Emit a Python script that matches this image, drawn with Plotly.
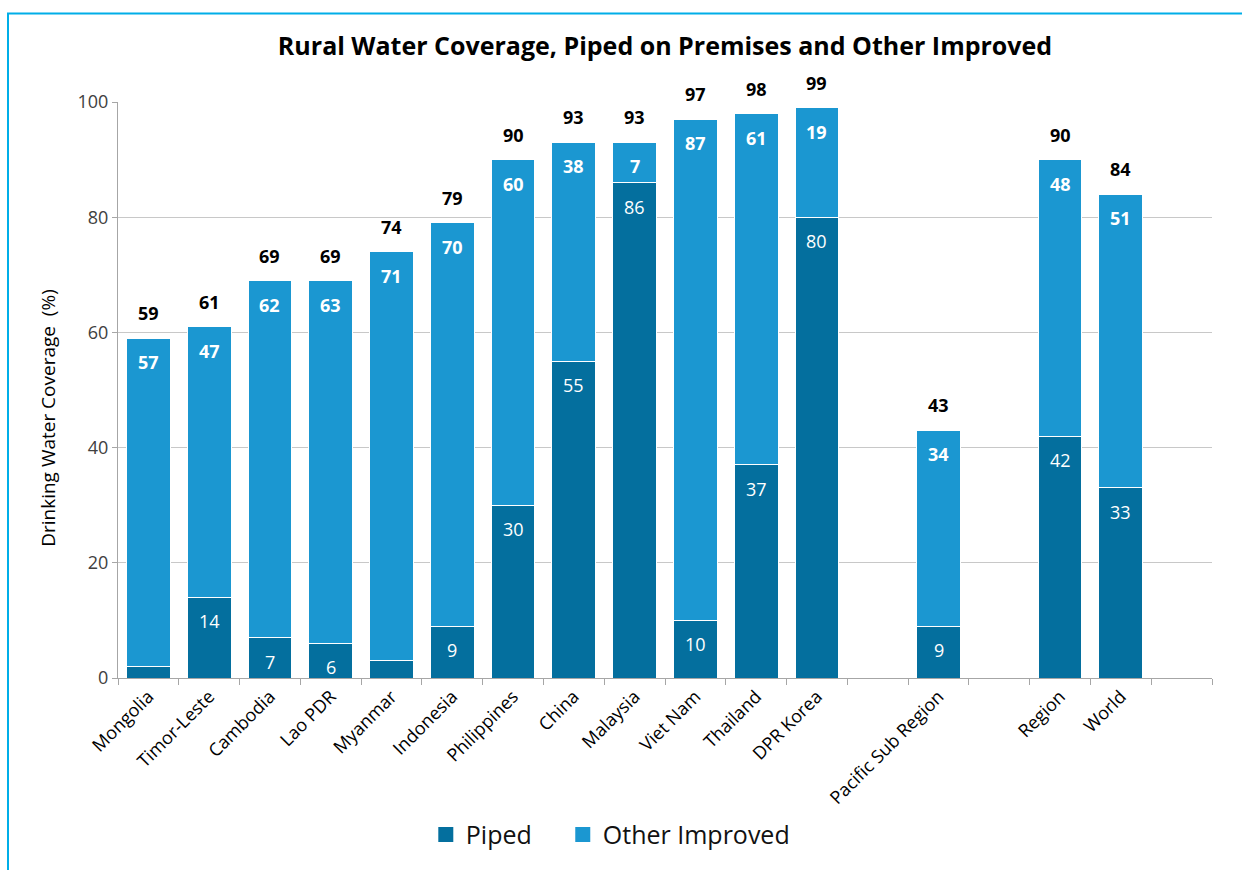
import plotly.graph_objects as go

categories = ["Mongolia", "Timor-Leste", "Cambodia", "Lao PDR", "Myanmar", "Indonesia",
              "Philippines", "China", "Malaysia", "Viet Nam", "Thailand", "DPR Korea",
              " ", "Pacific Sub Region", "  ", "Region", "World", "   "]
piped = [2, 14, 7, 6, 3, 9, 30, 55, 86, 10, 37, 80, None, 9, None, 42, 33, None]
other = [57, 47, 62, 63, 71, 70, 60, 38, 7, 87, 61, 19, None, 34, None, 48, 51, None]
totals = [59, 61, 69, 69, 74, 79, 90, 93, 93, 97, 98, 99, None, 43, None, 90, 84, None]

FONT = "Open Sans"
C_PIPED = "#046f9e"
C_OTHER = "#1b97d1"

fig = go.Figure()
fig.add_trace(go.Bar(x=categories, y=piped, name="Piped", marker_color=C_PIPED,
                     marker_line=dict(color="white", width=1), showlegend=False))
fig.add_trace(go.Bar(x=categories, y=other, name="Other Improved", marker_color=C_OTHER,
                     marker_line=dict(color="white", width=1), showlegend=False))
# legend entries with larger square swatches
for name, col in [("Piped" + "\u00a0" * 4, C_PIPED), ("Other Improved", C_OTHER)]:
    fig.add_trace(go.Scatter(x=[None], y=[None], mode="markers", name=name,
                             marker=dict(symbol="square", size=15, color=col)))

annotations = []
for c, p, o, t in zip(categories, piped, other, totals):
    if p is None:
        continue
    if p >= 5:
        annotations.append(dict(x=c, y=p, xref="x", yref="y", text=str(p), showarrow=False,
                                yanchor="middle", yshift=-24,
                                font=dict(family=FONT, size=18, color="white")))
    annotations.append(dict(x=c, y=p + o, xref="x", yref="y", text="<b>%d</b>" % o, showarrow=False,
                            yanchor="middle", yshift=-24,
                            font=dict(family=FONT, size=18, color="white")))
    annotations.append(dict(x=c, y=t, xref="x", yref="y", text="<b>%d</b>" % t, showarrow=False,
                            yanchor="middle", yshift=25,
                            font=dict(family=FONT, size=18, color="black")))

# y-axis title
annotations.append(dict(x=(48 - 118) / 1094, y=(682 - 420) / 580, xref="paper", yref="paper",
                        text="Drinking Water Coverage  (%)", textangle=-90, showarrow=False,
                        xanchor="center", yanchor="middle",
                        font=dict(family=FONT, size=19, color="black")))

fig.update_layout(
    barmode="stack",
    bargap=0.28,
    width=1242, height=870,
    margin=dict(l=118, r=30, t=102, b=188),
    paper_bgcolor="white", plot_bgcolor="white",
    font=dict(family=FONT, color="#404040"),
    title=dict(text="<b>Rural Water Coverage, Piped on Premises and Other Improved</b>",
               x=665 / 1242, xanchor="center", y=1 - 46 / 870, yanchor="middle",
               font=dict(family=FONT, size=25, color="black")),
    legend=dict(orientation="h", x=0.450, xanchor="center", y=-0.272, yanchor="middle",
                font=dict(family=FONT, size=25, color="#111111"), itemwidth=30,
                traceorder="normal"),
    annotations=annotations,
    shapes=[dict(type="rect", xref="paper", yref="paper",
                 x0=(8 - 118) / 1094, x1=(1260 - 118) / 1094,
                 y0=(682 - 900) / 580, y1=(682 - 13) / 580,
                 line=dict(color="#00aee8", width=2), fillcolor="rgba(0,0,0,0)", layer="below")],
)
fig.update_xaxes(type="category", categoryorder="array", categoryarray=categories,
                 tickangle=-45, tickson="boundaries", ticks="outside", ticklen=6,
                 tickcolor="#a6a6a6", showline=True, linecolor="#a6a6a6", linewidth=1,
                 tickfont=dict(family=FONT, size=18, color="black"), showgrid=False)
fig.update_yaxes(range=[0, 100], tick0=0, dtick=20, ticks="outside", ticklen=5,
                 tickcolor="#a6a6a6", showline=True, linecolor="#a6a6a6", linewidth=1,
                 gridcolor="#c8c8c8", gridwidth=1, zeroline=False,
                 tickfont=dict(family=FONT, size=18, color="#404040"))

fig.write_html("out.html")
